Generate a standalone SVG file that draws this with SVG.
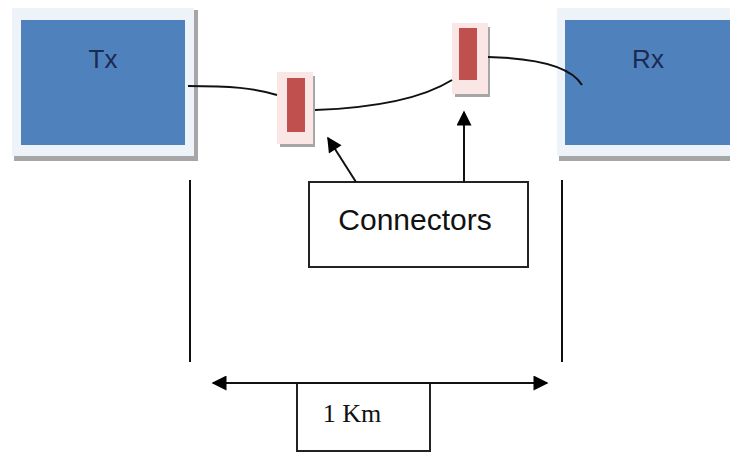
<svg xmlns="http://www.w3.org/2000/svg" width="730" height="452" viewBox="0 0 730 452">
<style>
.frame{fill:#eef3fa}
.shadow{fill:#a6a6a6}
.blue{fill:#4f81bd}
.cframe{fill:#fbe6e6}
.red{fill:#c0504d}
.lbl{font-family:"Liberation Sans",Arial,sans-serif;fill:#1a2a50}
.wire{fill:none;stroke:#111;stroke-width:2}
.line{stroke:#111;stroke-width:2;fill:none}
.box{fill:#fff;stroke:#222;stroke-width:2}
</style>
<defs>
<marker id="ah" viewBox="0 0 10 10" refX="9" refY="5" markerWidth="8" markerHeight="7.5" orient="auto-start-reverse" markerUnits="strokeWidth">
<path d="M0,0 L10,5 L0,10 z" fill="#000"/>
</marker>
</defs>
<rect width="730" height="452" fill="#fff"/>
<g id="tx">
<rect class="shadow" x="14" y="154" width="184" height="7"/>
<rect class="shadow" x="193" y="10" width="5" height="151"/>
<rect class="frame" x="12" y="8" width="182" height="148"/>
<rect class="blue" x="21" y="20" width="164" height="125"/>
<text class="lbl" x="103" y="68" font-size="26" text-anchor="middle">Tx</text>
</g>
<g id="rx">
<rect class="shadow" x="559" y="154" width="171" height="7"/>
<rect class="frame" x="557" y="8" width="173" height="148"/>
<rect class="blue" x="565" y="20" width="165" height="125"/>
<text class="lbl" x="648" y="68" font-size="26" text-anchor="middle">Rx</text>
</g>
<g id="connector1">
<rect class="shadow" x="280" y="143" width="35" height="4"/>
<rect class="shadow" x="312" y="76" width="3" height="71"/>
<rect class="cframe" x="277" y="72" width="36" height="72"/>
<rect class="red" x="287" y="78" width="18" height="54"/>
</g>
<g id="connector2">
<rect class="shadow" x="455" y="93" width="35" height="4"/>
<rect class="shadow" x="487" y="27" width="3" height="70"/>
<rect class="cframe" x="452" y="23" width="36" height="71"/>
<rect class="red" x="459" y="28" width="18" height="52"/>
</g>
<g id="connectors-label">
<rect class="box" x="309" y="182" width="219" height="85"/>
<text x="415" y="230" font-family="Liberation Sans,Arial,sans-serif" font-size="30" fill="#111" text-anchor="middle">Connectors</text>
</g>
<g id="distance-label">
<rect class="box" x="297" y="383" width="133" height="68"/>
<text x="352" y="422" font-family="Liberation Serif,Times New Roman,serif" font-size="26" fill="#111" text-anchor="middle">1 Km</text>
</g>
<g id="connectors">
<path class="wire" d="M188,86 C230,86 255,88 277,95"/>
<path class="wire" d="M315,110 C370,108 420,100 452,80"/>
<path class="wire" d="M488,57 C530,58 570,65 582,85"/>
<line class="line" x1="356" y1="182" x2="328" y2="138" marker-end="url(#ah)"/>
<line class="line" x1="464" y1="182" x2="464" y2="112" marker-end="url(#ah)"/>
<line class="line" x1="190" y1="180" x2="190" y2="362"/>
<line class="line" x1="562" y1="180" x2="562" y2="362"/>
<line class="line" x1="213" y1="383" x2="547" y2="383" marker-start="url(#ah)" marker-end="url(#ah)"/>
</g>
</svg>
